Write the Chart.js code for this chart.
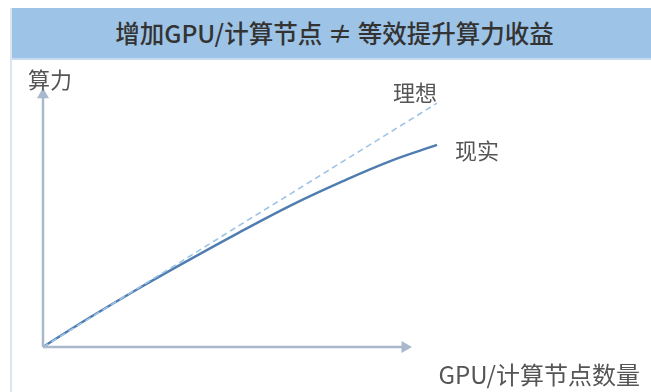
<!DOCTYPE html>
<html>
<head>
<meta charset="utf-8">
<script src="https://cdn.jsdelivr.net/npm/chart.js@4"></script>
<style>
  html, body { margin: 0; padding: 0; background: #fff; }
  body { width: 651px; height: 392px; position: relative; overflow: hidden; font-family: "Noto Sans CJK SC", "Noto Sans", sans-serif; }
  #frame {
    position: absolute; left: 10px; top: 8px; width: 641px; height: 384px;
    border-left: 2px solid #dde5ee; box-sizing: border-box;
  }
  #band {
    height: 50px; background: #9dc3e6; border-bottom: 2px solid #c5dbef;
    color: #333; font-size: 24.5px; font-weight: 500;
    line-height: 50px; text-align: center; padding-left: 6px;
  }
  #chart { position: absolute; left: 0; top: 0; }
</style>
</head>
<body>
<div id="frame"><div id="band">增加GPU/计算节点 ≠ 等效提升算力收益</div></div>
<canvas id="chart" width="651" height="392"></canvas>
<script>
// x = compute nodes, y = compute power (arbitrary units)
const nodes = [0, 12, 24, 37, 49, 62, 75, 87, 98.5];
const idealPower = [0, 11.4, 22.9, 35.2, 46.7, 59.0, 71.4, 82.8, 93.8];
const realPower = [0, 11.6, 22.6, 33.9, 44.0, 54.5, 63.8, 71.6, 77.7];

const axisEndX = 90.5;
const axisEndY = 97;

const labelText = {
  yAxis: "算力",
  xAxis: "GPU/计算节点数量",
  ideal: "理想",
  real: "现实"
};

const axisColor = "#a9b8cc";
const realColor = "#4f7db0";
const idealColor = "#9dc3e6";

const toPoints = (xs, ys) => xs.map((x, i) => ({ x, y: ys[i] }));

const labelsPlugin = {
  id: "labels",
  afterDatasetsDraw(chart) {
    const { ctx, scales: { x, y } } = chart;
    const last = nodes.length - 1;
    ctx.save();
    ctx.fillStyle = "#555";
    ctx.font = '22px "Noto Sans CJK SC"';
    ctx.textBaseline = "middle";

    ctx.textAlign = "left";
    ctx.fillText(labelText.yAxis, x.getPixelForValue(0) - 15, y.getPixelForValue(axisEndY) - 15);

    ctx.textAlign = "right";
    ctx.fillText(labelText.ideal, x.getPixelForValue(nodes[last]), y.getPixelForValue(idealPower[last]) - 10);

    ctx.textAlign = "left";
    ctx.fillText(labelText.real, x.getPixelForValue(nodes[last]) + 18, y.getPixelForValue(realPower[last]) + 6);

    ctx.font = '24px "Noto Sans CJK SC"';
    ctx.textAlign = "right";
    ctx.fillText(labelText.xAxis, 640, y.getPixelForValue(0) + 28);
    ctx.restore();
  }
};

new Chart(document.getElementById("chart"), {
  type: "line",
  data: {
    datasets: [
      {
        label: "x-axis",
        data: [{ x: 0, y: 0 }, { x: axisEndX, y: 0 }],
        borderColor: axisColor,
        backgroundColor: axisColor,
        borderWidth: 2.5,
        pointStyle: "triangle",
        pointRadius: [0, 7],
        pointRotation: 90,
        pointBorderWidth: 0,
        clip: false
      },
      {
        label: "y-axis",
        data: [{ x: 0, y: 0 }, { x: 0, y: axisEndY }],
        borderColor: axisColor,
        backgroundColor: axisColor,
        borderWidth: 2.5,
        pointStyle: "triangle",
        pointRadius: [0, 7],
        pointRotation: 0,
        pointBorderWidth: 0,
        clip: false
      },
      {
        label: labelText.ideal,
        data: toPoints(nodes, idealPower),
        borderColor: idealColor,
        borderWidth: 1.6,
        borderDash: [6, 4],
        pointRadius: 0,
        tension: 0,
        clip: false
      },
      {
        label: labelText.real,
        data: toPoints(nodes, realPower),
        borderColor: realColor,
        borderWidth: 2.4,
        pointRadius: 0,
        tension: 0.4,
        clip: false
      }
    ]
  },
  options: {
    responsive: false,
    animation: false,
    layout: { padding: { left: 43, right: 208, top: 87, bottom: 45 } },
    scales: {
      x: { type: "linear", min: 0, max: 100, display: false },
      y: { type: "linear", min: 0, max: 100, display: false }
    },
    plugins: {
      legend: { display: false },
      tooltip: { enabled: false }
    }
  },
  plugins: [labelsPlugin]
});
</script>
</body>
</html>
